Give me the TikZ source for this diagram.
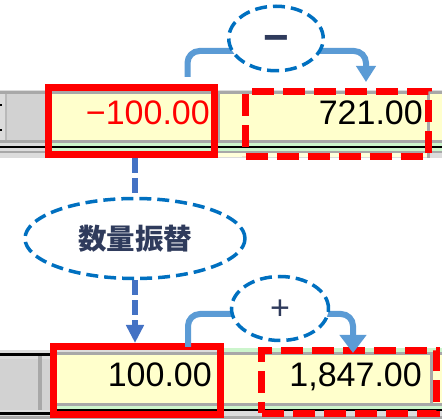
\documentclass[tikz,border=0pt]{standalone}
\usepackage{fontspec}
\setmainfont{Liberation Sans}
\newfontfamily\cjk{Noto Sans CJK JP}
\usetikzlibrary{arrows.meta,shapes.geometric}
\definecolor{cellyellow}{HTML}{FFFFCC}
\definecolor{gridgrey}{HTML}{A8A8A8}
\definecolor{panelgrey}{HTML}{DCDCDC}
\definecolor{cellgrey}{HTML}{D2D2D2}
\definecolor{lightgreen}{HTML}{CCF5CC}
\definecolor{flowblue}{HTML}{5B9BD5}
\definecolor{dashblue}{HTML}{0070C0}
\definecolor{linkblue}{HTML}{4472C4}
\definecolor{navy}{HTML}{2F3B5C}
\definecolor{pureRed}{HTML}{FF0000}
\begin{document}
\begin{tikzpicture}[x=1pt,y=-1pt,
  redsolid/.style={draw=pureRed, line width=7pt, inner sep=0pt},
  reddash/.style={draw=pureRed, line width=7pt, inner sep=0pt, dash pattern=on 22pt off 9pt},
  numtxt/.style={inner sep=0pt, anchor=base east, font=\fontsize{34pt}{34pt}\selectfont},
  dashell/.style={ellipse, draw=dashblue, fill=white, line width=3.5pt, dash pattern=on 12pt off 6pt, inner sep=0pt},
  flowarrow/.style={draw=flowblue, line width=6pt, rounded corners=12pt},
  linkdash/.style={draw=linkblue, line width=6pt, dash pattern=on 15pt off 5pt},
  signtxt/.style={inner sep=0pt, anchor=base, text=navy}
]
\useasboundingbox (0,0) rectangle (442,419);
\fill[white] (0,0) rectangle (442,419);

% ---------- top row ----------
\fill[panelgrey] (0,90) rectangle (442,158);
\fill[gridgrey] (0,91) rectangle (442,94);
\fill[cellgrey] (7,94) rectangle (45,140);
\fill[gridgrey!80] (5,94) rectangle (7,140);
\fill[black] (0,104) rectangle (2,106);
\fill[black] (0,129) rectangle (2,131);
\fill[cellyellow] (45,94) rectangle (442,140);
\fill[gridgrey] (218,94) rectangle (220,140);
\fill[gridgrey] (427,94) rectangle (430,158);
\fill[gridgrey] (0,140) rectangle (442,143);
\fill[lightgreen] (45,143) rectangle (442,146);
\fill[black] (0,146) rectangle (442,148);
\fill[lightgreen] (45,148) rectangle (442,151);
\fill[gridgrey] (0,151) rectangle (442,153);
\fill[cellyellow!70] (45,153) rectangle (427,157);

% ---------- bottom row ----------
\fill[panelgrey] (0,350) rectangle (442,419);
\fill[lightgreen] (218,348) rectangle (442,352);
\fill[black] (0,353) rectangle (52,356);
\fill[gridgrey] (52,352) rectangle (442,355);
\fill[cellgrey] (0,359) rectangle (52,410);
\fill[gridgrey] (38,356) rectangle (42,410);
\fill[cellyellow] (52,355) rectangle (442,403);
\fill[gridgrey] (430,355) rectangle (433,419);
\fill[gridgrey] (52,403) rectangle (442,406);
\fill[lightgreen] (52,406) rectangle (442,409);
\fill[black] (52,409) rectangle (442,411);
\fill[black] (0,412) rectangle (52,415);
\fill[gridgrey] (0,416) rectangle (442,419);

% ---------- values ----------
\node[numtxt, text=pureRed] (v1) at (210,125) {−100.00};
\node[numtxt] (v2) at (423,125) {721.00};
\node[numtxt] (v3) at (212,387) {100.00};
\node[numtxt] (v4) at (422,387) {1,847.00};

% ---------- highlight boxes ----------
\node[redsolid, minimum width=166pt, minimum height=67pt] (b1) at (131.5,121) {};
\node[reddash, minimum width=183pt, minimum height=65pt] (b2) at (337,124) {};
\node[redsolid, minimum width=167pt, minimum height=68pt] (b3) at (137,380.5) {};
\node[reddash, minimum width=175pt, minimum height=63pt] (b4) at (349,382) {};

% ---------- flow arrows ----------
\coordinate (s1) at (187.5,77);
\coordinate (m1) at (276,51);
\coordinate (t1) at (366,82);
\draw[flowarrow, -{Triangle[width=19pt,length=16pt]}] (s1) |- (m1) -| (t1);
\coordinate (s3) at (188,347);
\coordinate (m3) at (280,314);
\coordinate (t3) at (353,353);
\draw[flowarrow, -{Triangle[width=26pt,length=18pt]}] (s3) |- (m3) -| (t3);

% ---------- ellipses ----------
\node[dashell, minimum width=94.5pt, minimum height=64.5pt] (e1) at (276,38.5) {};
\node[dashell, minimum width=220pt, minimum height=80pt] (e2) at (135,238.5) {};
\node[dashell, minimum width=97pt, minimum height=64pt] (e3) at (280,308.5) {};

\node[signtxt, font=\bfseries\fontsize{44pt}{44pt}\selectfont] (minus) at (276,52.5) {−};
\node[signtxt, font=\fontsize{34pt}{34pt}\selectfont] (plus) at (280,320) {+};
\node[inner sep=0pt, text=navy, font=\cjk\bfseries\fontsize{28.5pt}{28.5pt}\selectfont] (lbl) at (e2.center) {数量振替};

% ---------- links ----------
\draw[linkdash] (e2.north |- b1.south) -- (e2.north);
\draw[linkdash, -{Triangle[width=17pt,length=18pt]}] (e2.south) -- (e2.south |- b3.north);
\end{tikzpicture}
\end{document}
